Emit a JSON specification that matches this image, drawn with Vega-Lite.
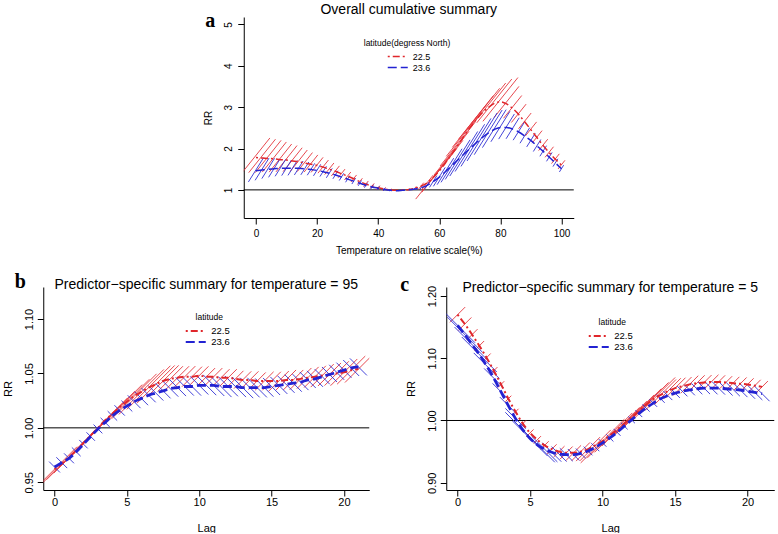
{
  "$schema": "https://vega.github.io/schema/vega-lite/v6.json",
  "background": "white",
  "padding": {"left": 2, "top": 2, "right": 0, "bottom": 0},
  "config": {
    "view": {"stroke": null},
    "font": "Liberation Sans",
    "axis": {"grid": false, "domainColor": "#000", "tickColor": "#000", "labelColor": "#000", "titleColor": "#000", "titleFontWeight": "normal", "tickSize": 6, "labelPadding": 3, "labelFont": "Liberation Sans", "titleFont": "Liberation Sans"},
    "axisY": {"labelAngle": -90, "labelAlign": "center", "labelBaseline": "bottom"},
    "title": {"font": "Liberation Sans", "fontWeight": "normal", "color": "#000", "anchor": "middle", "frame": "group", "baseline": "alphabetic"},
    "legend": {"titleFont": "Liberation Sans", "labelFont": "Liberation Sans", "titleFontWeight": "normal", "titleColor": "#000", "labelColor": "#000"}
  },
  "datasets": {
    "a": [
      {"x":0,"lat":"22.5","rr":1.78,"lo":1.391,"hi":2.278},
      {"x":2,"lat":"22.5","rr":1.77,"lo":1.394,"hi":2.248},
      {"x":4,"lat":"22.5","rr":1.76,"lo":1.397,"hi":2.218},
      {"x":6,"lat":"22.5","rr":1.75,"lo":1.400,"hi":2.188},
      {"x":8,"lat":"22.5","rr":1.73,"lo":1.401,"hi":2.137},
      {"x":10,"lat":"22.5","rr":1.72,"lo":1.410,"hi":2.098},
      {"x":12,"lat":"22.5","rr":1.70,"lo":1.411,"hi":2.049},
      {"x":14,"lat":"22.5","rr":1.68,"lo":1.412,"hi":1.999},
      {"x":16,"lat":"22.5","rr":1.65,"lo":1.404,"hi":1.939},
      {"x":18,"lat":"22.5","rr":1.62,"lo":1.397,"hi":1.879},
      {"x":20,"lat":"22.5","rr":1.59,"lo":1.389,"hi":1.821},
      {"x":22,"lat":"22.5","rr":1.55,"lo":1.366,"hi":1.759},
      {"x":24,"lat":"22.5","rr":1.50,"lo":1.333,"hi":1.688},
      {"x":26,"lat":"22.5","rr":1.45,"lo":1.300,"hi":1.617},
      {"x":28,"lat":"22.5","rr":1.39,"lo":1.258,"hi":1.536},
      {"x":30,"lat":"22.5","rr":1.33,"lo":1.209,"hi":1.463},
      {"x":32,"lat":"22.5","rr":1.27,"lo":1.160,"hi":1.391},
      {"x":34,"lat":"22.5","rr":1.20,"lo":1.101,"hi":1.308},
      {"x":36,"lat":"22.5","rr":1.14,"lo":1.051,"hi":1.237},
      {"x":38,"lat":"22.5","rr":1.09,"lo":1.014,"hi":1.172},
      {"x":40,"lat":"22.5","rr":1.05,"lo":0.991,"hi":1.113},
      {"x":42,"lat":"22.5","rr":1.02,"lo":0.976,"hi":1.066},
      {"x":44,"lat":"22.5","rr":1.00,"lo":0.971,"hi":1.030},
      {"x":46,"lat":"22.5","rr":0.99,"lo":0.980,"hi":1.000},
      {"x":48,"lat":"22.5","rr":1.00,"lo":0.990,"hi":1.010},
      {"x":50,"lat":"22.5","rr":1.01,"lo":0.990,"hi":1.030},
      {"x":52,"lat":"22.5","rr":1.04,"lo":1.005,"hi":1.076},
      {"x":54,"lat":"22.5","rr":1.09,"lo":1.038,"hi":1.145},
      {"x":56,"lat":"22.5","rr":1.17,"lo":1.093,"hi":1.252},
      {"x":58,"lat":"22.5","rr":1.30,"lo":1.182,"hi":1.430},
      {"x":60,"lat":"22.5","rr":1.46,"lo":1.292,"hi":1.650},
      {"x":62,"lat":"22.5","rr":1.65,"lo":1.422,"hi":1.914},
      {"x":64,"lat":"22.5","rr":1.86,"lo":1.563,"hi":2.213},
      {"x":66,"lat":"22.5","rr":2.07,"lo":1.711,"hi":2.505},
      {"x":68,"lat":"22.5","rr":2.29,"lo":1.862,"hi":2.817},
      {"x":70,"lat":"22.5","rr":2.50,"lo":2.016,"hi":3.100},
      {"x":72,"lat":"22.5","rr":2.69,"lo":2.169,"hi":3.336},
      {"x":74,"lat":"22.5","rr":2.86,"lo":2.306,"hi":3.546},
      {"x":76,"lat":"22.5","rr":2.99,"lo":2.431,"hi":3.678},
      {"x":78,"lat":"22.5","rr":3.09,"lo":2.533,"hi":3.770},
      {"x":80,"lat":"22.5","rr":3.13,"lo":2.587,"hi":3.787},
      {"x":82,"lat":"22.5","rr":3.08,"lo":2.588,"hi":3.665},
      {"x":84,"lat":"22.5","rr":2.97,"lo":2.538,"hi":3.475},
      {"x":86,"lat":"22.5","rr":2.82,"lo":2.431,"hi":3.271},
      {"x":88,"lat":"22.5","rr":2.64,"lo":2.286,"hi":3.049},
      {"x":90,"lat":"22.5","rr":2.45,"lo":2.130,"hi":2.818},
      {"x":92,"lat":"22.5","rr":2.26,"lo":1.974,"hi":2.588},
      {"x":94,"lat":"22.5","rr":2.07,"lo":1.816,"hi":2.360},
      {"x":96,"lat":"22.5","rr":1.90,"lo":1.674,"hi":2.157},
      {"x":98,"lat":"22.5","rr":1.74,"lo":1.540,"hi":1.966},
      {"x":100,"lat":"22.5","rr":1.60,"lo":1.429,"hi":1.792},
      {"x":0,"lat":"23.6","rr":1.46,"lo":1.217,"hi":1.752},
      {"x":2,"lat":"23.6","rr":1.48,"lo":1.254,"hi":1.746},
      {"x":4,"lat":"23.6","rr":1.50,"lo":1.288,"hi":1.748},
      {"x":6,"lat":"23.6","rr":1.51,"lo":1.313,"hi":1.737},
      {"x":8,"lat":"23.6","rr":1.52,"lo":1.333,"hi":1.733},
      {"x":10,"lat":"23.6","rr":1.52,"lo":1.345,"hi":1.718},
      {"x":12,"lat":"23.6","rr":1.52,"lo":1.351,"hi":1.710},
      {"x":14,"lat":"23.6","rr":1.52,"lo":1.357,"hi":1.702},
      {"x":16,"lat":"23.6","rr":1.51,"lo":1.354,"hi":1.684},
      {"x":18,"lat":"23.6","rr":1.49,"lo":1.342,"hi":1.654},
      {"x":20,"lat":"23.6","rr":1.47,"lo":1.324,"hi":1.632},
      {"x":22,"lat":"23.6","rr":1.44,"lo":1.303,"hi":1.591},
      {"x":24,"lat":"23.6","rr":1.40,"lo":1.273,"hi":1.540},
      {"x":26,"lat":"23.6","rr":1.36,"lo":1.248,"hi":1.482},
      {"x":28,"lat":"23.6","rr":1.31,"lo":1.207,"hi":1.421},
      {"x":30,"lat":"23.6","rr":1.26,"lo":1.167,"hi":1.361},
      {"x":32,"lat":"23.6","rr":1.21,"lo":1.126,"hi":1.301},
      {"x":34,"lat":"23.6","rr":1.16,"lo":1.084,"hi":1.241},
      {"x":36,"lat":"23.6","rr":1.11,"lo":1.042,"hi":1.182},
      {"x":38,"lat":"23.6","rr":1.07,"lo":1.009,"hi":1.134},
      {"x":40,"lat":"23.6","rr":1.04,"lo":0.990,"hi":1.092},
      {"x":42,"lat":"23.6","rr":1.01,"lo":0.971,"hi":1.050},
      {"x":44,"lat":"23.6","rr":0.99,"lo":0.966,"hi":1.015},
      {"x":46,"lat":"23.6","rr":0.98,"lo":0.970,"hi":0.990},
      {"x":48,"lat":"23.6","rr":0.99,"lo":0.985,"hi":0.995},
      {"x":50,"lat":"23.6","rr":1.00,"lo":0.990,"hi":1.010},
      {"x":52,"lat":"23.6","rr":1.02,"lo":1.000,"hi":1.040},
      {"x":54,"lat":"23.6","rr":1.05,"lo":1.014,"hi":1.087},
      {"x":56,"lat":"23.6","rr":1.11,"lo":1.057,"hi":1.166},
      {"x":58,"lat":"23.6","rr":1.20,"lo":1.121,"hi":1.284},
      {"x":60,"lat":"23.6","rr":1.31,"lo":1.202,"hi":1.428},
      {"x":62,"lat":"23.6","rr":1.44,"lo":1.309,"hi":1.584},
      {"x":64,"lat":"23.6","rr":1.58,"lo":1.423,"hi":1.754},
      {"x":66,"lat":"23.6","rr":1.72,"lo":1.536,"hi":1.926},
      {"x":68,"lat":"23.6","rr":1.86,"lo":1.653,"hi":2.093},
      {"x":70,"lat":"23.6","rr":2.00,"lo":1.770,"hi":2.260},
      {"x":72,"lat":"23.6","rr":2.13,"lo":1.877,"hi":2.418},
      {"x":74,"lat":"23.6","rr":2.26,"lo":1.982,"hi":2.576},
      {"x":76,"lat":"23.6","rr":2.37,"lo":2.079,"hi":2.702},
      {"x":78,"lat":"23.6","rr":2.46,"lo":2.158,"hi":2.804},
      {"x":80,"lat":"23.6","rr":2.51,"lo":2.202,"hi":2.861},
      {"x":82,"lat":"23.6","rr":2.51,"lo":2.202,"hi":2.861},
      {"x":84,"lat":"23.6","rr":2.47,"lo":2.176,"hi":2.803},
      {"x":86,"lat":"23.6","rr":2.40,"lo":2.124,"hi":2.712},
      {"x":88,"lat":"23.6","rr":2.30,"lo":2.044,"hi":2.588},
      {"x":90,"lat":"23.6","rr":2.19,"lo":1.955,"hi":2.453},
      {"x":92,"lat":"23.6","rr":2.06,"lo":1.848,"hi":2.297},
      {"x":94,"lat":"23.6","rr":1.93,"lo":1.739,"hi":2.142},
      {"x":96,"lat":"23.6","rr":1.79,"lo":1.627,"hi":1.969},
      {"x":98,"lat":"23.6","rr":1.65,"lo":1.507,"hi":1.807},
      {"x":100,"lat":"23.6","rr":1.51,"lo":1.385,"hi":1.646}
    ],
    "b": [
      {"x":0,"lat":"22.5","rr":0.962,"lo":0.951,"hi":0.973},
      {"x":0.5,"lat":"22.5","rr":0.967,"lo":0.956,"hi":0.978},
      {"x":1,"lat":"22.5","rr":0.973,"lo":0.962,"hi":0.984},
      {"x":1.5,"lat":"22.5","rr":0.979,"lo":0.969,"hi":0.989},
      {"x":2,"lat":"22.5","rr":0.986,"lo":0.976,"hi":0.996},
      {"x":2.5,"lat":"22.5","rr":0.993,"lo":0.983,"hi":1.003},
      {"x":3,"lat":"22.5","rr":1.000,"lo":0.990,"hi":1.010},
      {"x":3.5,"lat":"22.5","rr":1.007,"lo":0.997,"hi":1.017},
      {"x":4,"lat":"22.5","rr":1.013,"lo":1.003,"hi":1.023},
      {"x":4.5,"lat":"22.5","rr":1.019,"lo":1.0095,"hi":1.0285},
      {"x":5,"lat":"22.5","rr":1.024,"lo":1.0145,"hi":1.0335},
      {"x":5.5,"lat":"22.5","rr":1.029,"lo":1.0195,"hi":1.0385},
      {"x":6,"lat":"22.5","rr":1.033,"lo":1.0235,"hi":1.0425},
      {"x":6.5,"lat":"22.5","rr":1.037,"lo":1.0275,"hi":1.0465},
      {"x":7,"lat":"22.5","rr":1.040,"lo":1.0305,"hi":1.0495},
      {"x":7.5,"lat":"22.5","rr":1.043,"lo":1.034,"hi":1.052},
      {"x":8,"lat":"22.5","rr":1.045,"lo":1.036,"hi":1.054},
      {"x":8.5,"lat":"22.5","rr":1.046,"lo":1.037,"hi":1.055},
      {"x":9,"lat":"22.5","rr":1.047,"lo":1.038,"hi":1.056},
      {"x":9.5,"lat":"22.5","rr":1.047,"lo":1.0385,"hi":1.0555},
      {"x":10,"lat":"22.5","rr":1.048,"lo":1.0395,"hi":1.0565},
      {"x":10.5,"lat":"22.5","rr":1.047,"lo":1.0385,"hi":1.0555},
      {"x":11,"lat":"22.5","rr":1.047,"lo":1.0385,"hi":1.0555},
      {"x":11.5,"lat":"22.5","rr":1.046,"lo":1.0375,"hi":1.0545},
      {"x":12,"lat":"22.5","rr":1.046,"lo":1.0375,"hi":1.0545},
      {"x":12.5,"lat":"22.5","rr":1.045,"lo":1.0365,"hi":1.0535},
      {"x":13,"lat":"22.5","rr":1.044,"lo":1.0355,"hi":1.0525},
      {"x":13.5,"lat":"22.5","rr":1.044,"lo":1.0355,"hi":1.0525},
      {"x":14,"lat":"22.5","rr":1.043,"lo":1.0345,"hi":1.0515},
      {"x":14.5,"lat":"22.5","rr":1.043,"lo":1.0345,"hi":1.0515},
      {"x":15,"lat":"22.5","rr":1.043,"lo":1.0345,"hi":1.0515},
      {"x":15.5,"lat":"22.5","rr":1.043,"lo":1.0345,"hi":1.0515},
      {"x":16,"lat":"22.5","rr":1.044,"lo":1.0355,"hi":1.0525},
      {"x":16.5,"lat":"22.5","rr":1.044,"lo":1.0355,"hi":1.0525},
      {"x":17,"lat":"22.5","rr":1.045,"lo":1.0365,"hi":1.0535},
      {"x":17.5,"lat":"22.5","rr":1.046,"lo":1.0375,"hi":1.0545},
      {"x":18,"lat":"22.5","rr":1.047,"lo":1.0385,"hi":1.0555},
      {"x":18.5,"lat":"22.5","rr":1.048,"lo":1.039,"hi":1.057},
      {"x":19,"lat":"22.5","rr":1.049,"lo":1.040,"hi":1.058},
      {"x":19.5,"lat":"22.5","rr":1.050,"lo":1.0405,"hi":1.0595},
      {"x":20,"lat":"22.5","rr":1.051,"lo":1.0415,"hi":1.0605},
      {"x":20.5,"lat":"22.5","rr":1.053,"lo":1.043,"hi":1.063},
      {"x":21,"lat":"22.5","rr":1.054,"lo":1.0435,"hi":1.0645},
      {"x":0,"lat":"23.6","rr":0.964,"lo":0.956,"hi":0.972},
      {"x":0.5,"lat":"23.6","rr":0.968,"lo":0.960,"hi":0.976},
      {"x":1,"lat":"23.6","rr":0.972,"lo":0.964,"hi":0.980},
      {"x":1.5,"lat":"23.6","rr":0.978,"lo":0.970,"hi":0.986},
      {"x":2,"lat":"23.6","rr":0.985,"lo":0.977,"hi":0.993},
      {"x":2.5,"lat":"23.6","rr":0.992,"lo":0.984,"hi":1.000},
      {"x":3,"lat":"23.6","rr":0.999,"lo":0.991,"hi":1.007},
      {"x":3.5,"lat":"23.6","rr":1.005,"lo":0.997,"hi":1.013},
      {"x":4,"lat":"23.6","rr":1.011,"lo":1.003,"hi":1.019},
      {"x":4.5,"lat":"23.6","rr":1.016,"lo":1.008,"hi":1.024},
      {"x":5,"lat":"23.6","rr":1.020,"lo":1.012,"hi":1.028},
      {"x":5.5,"lat":"23.6","rr":1.024,"lo":1.015,"hi":1.033},
      {"x":6,"lat":"23.6","rr":1.027,"lo":1.018,"hi":1.036},
      {"x":6.5,"lat":"23.6","rr":1.030,"lo":1.021,"hi":1.039},
      {"x":7,"lat":"23.6","rr":1.032,"lo":1.023,"hi":1.041},
      {"x":7.5,"lat":"23.6","rr":1.034,"lo":1.025,"hi":1.043},
      {"x":8,"lat":"23.6","rr":1.036,"lo":1.027,"hi":1.045},
      {"x":8.5,"lat":"23.6","rr":1.037,"lo":1.028,"hi":1.046},
      {"x":9,"lat":"23.6","rr":1.038,"lo":1.029,"hi":1.047},
      {"x":9.5,"lat":"23.6","rr":1.038,"lo":1.029,"hi":1.047},
      {"x":10,"lat":"23.6","rr":1.039,"lo":1.030,"hi":1.048},
      {"x":10.5,"lat":"23.6","rr":1.039,"lo":1.030,"hi":1.048},
      {"x":11,"lat":"23.6","rr":1.039,"lo":1.030,"hi":1.048},
      {"x":11.5,"lat":"23.6","rr":1.038,"lo":1.029,"hi":1.047},
      {"x":12,"lat":"23.6","rr":1.038,"lo":1.029,"hi":1.047},
      {"x":12.5,"lat":"23.6","rr":1.038,"lo":1.029,"hi":1.047},
      {"x":13,"lat":"23.6","rr":1.037,"lo":1.028,"hi":1.046},
      {"x":13.5,"lat":"23.6","rr":1.037,"lo":1.028,"hi":1.046},
      {"x":14,"lat":"23.6","rr":1.037,"lo":1.028,"hi":1.046},
      {"x":14.5,"lat":"23.6","rr":1.037,"lo":1.028,"hi":1.046},
      {"x":15,"lat":"23.6","rr":1.038,"lo":1.029,"hi":1.047},
      {"x":15.5,"lat":"23.6","rr":1.039,"lo":1.030,"hi":1.048},
      {"x":16,"lat":"23.6","rr":1.040,"lo":1.031,"hi":1.049},
      {"x":16.5,"lat":"23.6","rr":1.041,"lo":1.032,"hi":1.050},
      {"x":17,"lat":"23.6","rr":1.042,"lo":1.033,"hi":1.051},
      {"x":17.5,"lat":"23.6","rr":1.044,"lo":1.035,"hi":1.053},
      {"x":18,"lat":"23.6","rr":1.045,"lo":1.036,"hi":1.054},
      {"x":18.5,"lat":"23.6","rr":1.047,"lo":1.038,"hi":1.056},
      {"x":19,"lat":"23.6","rr":1.049,"lo":1.040,"hi":1.058},
      {"x":19.5,"lat":"23.6","rr":1.051,"lo":1.042,"hi":1.060},
      {"x":20,"lat":"23.6","rr":1.053,"lo":1.044,"hi":1.062},
      {"x":20.5,"lat":"23.6","rr":1.055,"lo":1.046,"hi":1.064},
      {"x":21,"lat":"23.6","rr":1.056,"lo":1.047,"hi":1.065}
    ],
    "c": [
      {"x":0,"lat":"22.5","rr":1.170,"lo":1.142,"hi":1.198},
      {"x":0.5,"lat":"22.5","rr":1.155,"lo":1.130,"hi":1.180},
      {"x":1,"lat":"22.5","rr":1.138,"lo":1.116,"hi":1.160},
      {"x":1.5,"lat":"22.5","rr":1.120,"lo":1.100,"hi":1.140},
      {"x":2,"lat":"22.5","rr":1.101,"lo":1.083,"hi":1.119},
      {"x":2.5,"lat":"22.5","rr":1.080,"lo":1.0635,"hi":1.0965},
      {"x":3,"lat":"22.5","rr":1.058,"lo":1.043,"hi":1.073},
      {"x":3.5,"lat":"22.5","rr":1.035,"lo":1.021,"hi":1.049},
      {"x":4,"lat":"22.5","rr":1.014,"lo":1.001,"hi":1.027},
      {"x":4.5,"lat":"22.5","rr":0.995,"lo":0.9825,"hi":1.0075},
      {"x":5,"lat":"22.5","rr":0.980,"lo":0.968,"hi":0.992},
      {"x":5.5,"lat":"22.5","rr":0.969,"lo":0.958,"hi":0.980},
      {"x":6,"lat":"22.5","rr":0.960,"lo":0.949,"hi":0.971},
      {"x":6.5,"lat":"22.5","rr":0.954,"lo":0.943,"hi":0.965},
      {"x":7,"lat":"22.5","rr":0.950,"lo":0.939,"hi":0.961},
      {"x":7.5,"lat":"22.5","rr":0.948,"lo":0.937,"hi":0.959},
      {"x":8,"lat":"22.5","rr":0.948,"lo":0.937,"hi":0.959},
      {"x":8.5,"lat":"22.5","rr":0.950,"lo":0.939,"hi":0.961},
      {"x":9,"lat":"22.5","rr":0.954,"lo":0.943,"hi":0.965},
      {"x":9.5,"lat":"22.5","rr":0.960,"lo":0.949,"hi":0.971},
      {"x":10,"lat":"22.5","rr":0.967,"lo":0.956,"hi":0.978},
      {"x":10.5,"lat":"22.5","rr":0.976,"lo":0.965,"hi":0.987},
      {"x":11,"lat":"22.5","rr":0.985,"lo":0.974,"hi":0.996},
      {"x":11.5,"lat":"22.5","rr":0.995,"lo":0.984,"hi":1.006},
      {"x":12,"lat":"22.5","rr":1.005,"lo":0.994,"hi":1.016},
      {"x":12.5,"lat":"22.5","rr":1.015,"lo":1.004,"hi":1.026},
      {"x":13,"lat":"22.5","rr":1.025,"lo":1.014,"hi":1.036},
      {"x":13.5,"lat":"22.5","rr":1.034,"lo":1.023,"hi":1.045},
      {"x":14,"lat":"22.5","rr":1.041,"lo":1.030,"hi":1.052},
      {"x":14.5,"lat":"22.5","rr":1.047,"lo":1.036,"hi":1.058},
      {"x":15,"lat":"22.5","rr":1.052,"lo":1.041,"hi":1.063},
      {"x":15.5,"lat":"22.5","rr":1.055,"lo":1.044,"hi":1.066},
      {"x":16,"lat":"22.5","rr":1.058,"lo":1.047,"hi":1.069},
      {"x":16.5,"lat":"22.5","rr":1.060,"lo":1.049,"hi":1.071},
      {"x":17,"lat":"22.5","rr":1.061,"lo":1.050,"hi":1.072},
      {"x":17.5,"lat":"22.5","rr":1.062,"lo":1.051,"hi":1.073},
      {"x":18,"lat":"22.5","rr":1.062,"lo":1.051,"hi":1.073},
      {"x":18.5,"lat":"22.5","rr":1.061,"lo":1.050,"hi":1.072},
      {"x":19,"lat":"22.5","rr":1.060,"lo":1.049,"hi":1.071},
      {"x":19.5,"lat":"22.5","rr":1.059,"lo":1.048,"hi":1.070},
      {"x":20,"lat":"22.5","rr":1.058,"lo":1.047,"hi":1.069},
      {"x":20.5,"lat":"22.5","rr":1.056,"lo":1.045,"hi":1.067},
      {"x":21,"lat":"22.5","rr":1.054,"lo":1.043,"hi":1.065},
      {"x":0,"lat":"23.6","rr":1.153,"lo":1.137,"hi":1.169},
      {"x":0.5,"lat":"23.6","rr":1.138,"lo":1.123,"hi":1.153},
      {"x":1,"lat":"23.6","rr":1.122,"lo":1.108,"hi":1.136},
      {"x":1.5,"lat":"23.6","rr":1.106,"lo":1.0925,"hi":1.1195},
      {"x":2,"lat":"23.6","rr":1.088,"lo":1.075,"hi":1.101},
      {"x":2.5,"lat":"23.6","rr":1.068,"lo":1.0555,"hi":1.0805},
      {"x":3,"lat":"23.6","rr":1.046,"lo":1.034,"hi":1.058},
      {"x":3.5,"lat":"23.6","rr":1.024,"lo":1.0125,"hi":1.0355},
      {"x":4,"lat":"23.6","rr":1.003,"lo":0.992,"hi":1.014},
      {"x":4.5,"lat":"23.6","rr":0.985,"lo":0.9745,"hi":0.9955},
      {"x":5,"lat":"23.6","rr":0.971,"lo":0.961,"hi":0.981},
      {"x":5.5,"lat":"23.6","rr":0.961,"lo":0.951,"hi":0.971},
      {"x":6,"lat":"23.6","rr":0.954,"lo":0.944,"hi":0.964},
      {"x":6.5,"lat":"23.6","rr":0.949,"lo":0.939,"hi":0.959},
      {"x":7,"lat":"23.6","rr":0.946,"lo":0.936,"hi":0.956},
      {"x":7.5,"lat":"23.6","rr":0.945,"lo":0.935,"hi":0.955},
      {"x":8,"lat":"23.6","rr":0.945,"lo":0.935,"hi":0.955},
      {"x":8.5,"lat":"23.6","rr":0.947,"lo":0.937,"hi":0.957},
      {"x":9,"lat":"23.6","rr":0.951,"lo":0.941,"hi":0.961},
      {"x":9.5,"lat":"23.6","rr":0.957,"lo":0.947,"hi":0.967},
      {"x":10,"lat":"23.6","rr":0.964,"lo":0.954,"hi":0.974},
      {"x":10.5,"lat":"23.6","rr":0.972,"lo":0.962,"hi":0.982},
      {"x":11,"lat":"23.6","rr":0.981,"lo":0.971,"hi":0.991},
      {"x":11.5,"lat":"23.6","rr":0.991,"lo":0.981,"hi":1.001},
      {"x":12,"lat":"23.6","rr":1.001,"lo":0.991,"hi":1.011},
      {"x":12.5,"lat":"23.6","rr":1.011,"lo":1.001,"hi":1.021},
      {"x":13,"lat":"23.6","rr":1.020,"lo":1.010,"hi":1.030},
      {"x":13.5,"lat":"23.6","rr":1.028,"lo":1.018,"hi":1.038},
      {"x":14,"lat":"23.6","rr":1.035,"lo":1.025,"hi":1.045},
      {"x":14.5,"lat":"23.6","rr":1.040,"lo":1.030,"hi":1.050},
      {"x":15,"lat":"23.6","rr":1.044,"lo":1.034,"hi":1.054},
      {"x":15.5,"lat":"23.6","rr":1.047,"lo":1.037,"hi":1.057},
      {"x":16,"lat":"23.6","rr":1.049,"lo":1.039,"hi":1.059},
      {"x":16.5,"lat":"23.6","rr":1.051,"lo":1.041,"hi":1.061},
      {"x":17,"lat":"23.6","rr":1.052,"lo":1.042,"hi":1.062},
      {"x":17.5,"lat":"23.6","rr":1.052,"lo":1.042,"hi":1.062},
      {"x":18,"lat":"23.6","rr":1.052,"lo":1.042,"hi":1.062},
      {"x":18.5,"lat":"23.6","rr":1.051,"lo":1.041,"hi":1.061},
      {"x":19,"lat":"23.6","rr":1.050,"lo":1.040,"hi":1.060},
      {"x":19.5,"lat":"23.6","rr":1.049,"lo":1.039,"hi":1.059},
      {"x":20,"lat":"23.6","rr":1.047,"lo":1.037,"hi":1.057},
      {"x":20.5,"lat":"23.6","rr":1.045,"lo":1.035,"hi":1.055},
      {"x":21,"lat":"23.6","rr":1.043,"lo":1.033,"hi":1.053}
    ]
  },
  "center": true,
  "spacing": 16,
  "resolve": {"scale": {"color": "independent", "strokeDash": "independent"}},
  "vconcat": [
    {
      "name": "A",
      "width": 330,
      "height": 201,
      "title": {"text": "Overall cumulative summary", "fontSize": 14, "offset": -6},
      "data": {"name": "a"},
      "layer": [
        {
          "data": {"values": [{"ref": 1}]},
          "mark": {"type": "rule", "color": "#000", "strokeWidth": 1},
          "encoding": {"y": {"field": "ref", "type": "quantitative"}}
        },
        {
          "transform": [
            {"filter": "datum.lat == '22.5'"},
            {"window": [{"op": "first_value", "field": "rr", "as": "rp"}, {"op": "last_value", "field": "rr", "as": "rn"}, {"op": "first_value", "field": "x", "as": "xp"}, {"op": "last_value", "field": "x", "as": "xn"}], "frame": [-1, 1], "sort": [{"field": "x", "order": "ascending"}]}
          ],
          "mark": {"type": "rule", "color": "#e4363c", "strokeWidth": 0.9, "clip": true,
            "xOffset": {"expr": "-0.5*clamp((scale('A_y',datum.lo)-scale('A_y',datum.hi))/(1.25-(scale('A_y',datum.rp)-scale('A_y',datum.rn))/(scale('A_x',datum.xn)-scale('A_x',datum.xp))),-35,35)"},
            "x2Offset": {"expr": "0.5*clamp((scale('A_y',datum.lo)-scale('A_y',datum.hi))/(1.25-(scale('A_y',datum.rp)-scale('A_y',datum.rn))/(scale('A_x',datum.xn)-scale('A_x',datum.xp))),-35,35)"},
            "yOffset": {"expr": "-0.5*(scale('A_y',datum.lo)-scale('A_y',datum.hi))+0.625*clamp((scale('A_y',datum.lo)-scale('A_y',datum.hi))/(1.25-(scale('A_y',datum.rp)-scale('A_y',datum.rn))/(scale('A_x',datum.xn)-scale('A_x',datum.xp))),-35,35)"},
            "y2Offset": {"expr": "0.5*(scale('A_y',datum.lo)-scale('A_y',datum.hi))-0.625*clamp((scale('A_y',datum.lo)-scale('A_y',datum.hi))/(1.25-(scale('A_y',datum.rp)-scale('A_y',datum.rn))/(scale('A_x',datum.xn)-scale('A_x',datum.xp))),-35,35)"}},
          "encoding": {
            "x": {"field": "x", "type": "quantitative", "scale": {"domain": [-4, 104], "nice": false, "zero": false},
              "axis": {"values": [0, 20, 40, 60, 80, 100], "title": "Temperature on relative scale(%)", "labelFontSize": 10, "titleFontSize": 10, "labelPadding": 4, "titlePadding": 7}},
            "x2": {"field": "x"},
            "y": {"field": "lo", "type": "quantitative", "scale": {"domain": [0.32, 5.18], "nice": false, "zero": false},
              "axis": {"values": [1, 2, 3, 4, 5], "title": "RR", "labelFontSize": 10, "titleFontSize": 10, "labelPadding": 4, "titlePadding": 10}},
            "y2": {"field": "hi"}
          }
        },
        {
          "transform": [
            {"filter": "datum.lat == '23.6'"},
            {"window": [{"op": "first_value", "field": "rr", "as": "rp"}, {"op": "last_value", "field": "rr", "as": "rn"}, {"op": "first_value", "field": "x", "as": "xp"}, {"op": "last_value", "field": "x", "as": "xn"}], "frame": [-1, 1], "sort": [{"field": "x", "order": "ascending"}]}
          ],
          "mark": {"type": "rule", "color": "#2f2fd4", "strokeWidth": 0.9, "clip": true,
            "xOffset": {"expr": "-0.5*clamp((scale('A_y',datum.lo)-scale('A_y',datum.hi))/(1.6-(scale('A_y',datum.rp)-scale('A_y',datum.rn))/(scale('A_x',datum.xn)-scale('A_x',datum.xp))),-30,30)"},
            "x2Offset": {"expr": "0.5*clamp((scale('A_y',datum.lo)-scale('A_y',datum.hi))/(1.6-(scale('A_y',datum.rp)-scale('A_y',datum.rn))/(scale('A_x',datum.xn)-scale('A_x',datum.xp))),-30,30)"},
            "yOffset": {"expr": "-0.5*(scale('A_y',datum.lo)-scale('A_y',datum.hi))+0.8*clamp((scale('A_y',datum.lo)-scale('A_y',datum.hi))/(1.6-(scale('A_y',datum.rp)-scale('A_y',datum.rn))/(scale('A_x',datum.xn)-scale('A_x',datum.xp))),-30,30)"},
            "y2Offset": {"expr": "0.5*(scale('A_y',datum.lo)-scale('A_y',datum.hi))-0.8*clamp((scale('A_y',datum.lo)-scale('A_y',datum.hi))/(1.6-(scale('A_y',datum.rp)-scale('A_y',datum.rn))/(scale('A_x',datum.xn)-scale('A_x',datum.xp))),-30,30)"}},
          "encoding": {
            "x": {"field": "x", "type": "quantitative"},
            "x2": {"field": "x"},
            "y": {"field": "lo", "type": "quantitative"},
            "y2": {"field": "hi"}
          }
        },
        {
          "mark": {"type": "line", "interpolate": "monotone", "strokeWidth": 1.5},
          "encoding": {
            "x": {"field": "x", "type": "quantitative"},
            "y": {"field": "rr", "type": "quantitative"},
            "color": {"field": "lat", "type": "nominal", "scale": {"domain": ["22.5", "23.6"], "range": ["#e0262b", "#2323d2"]},
              "legend": {"title": "latitude(degress North)", "orient": "none", "legendX": 120, "legendY": 22, "symbolType": "M-2,0H2", "symbolSize": 100, "symbolStrokeWidth": 1.6, "symbolOffset": 28, "titleFontSize": 8.5, "labelFontSize": 9, "titlePadding": 3, "rowPadding": -1, "labelOffset": 9}},
            "strokeDash": {"field": "lat", "type": "nominal", "scale": {"domain": ["22.5", "23.6"], "range": [[2, 3, 7, 3], [9, 4]]},
              "legend": {"title": "latitude(degress North)", "orient": "none", "legendX": 120, "legendY": 22, "symbolType": "M-2,0H2", "symbolSize": 100, "symbolStrokeWidth": 1.6, "symbolOffset": 28, "titleFontSize": 8.5, "labelFontSize": 9, "titlePadding": 3, "rowPadding": -1, "labelOffset": 9}}
          }
        },
        {
          "data": {"values": [{"label": "a"}]},
          "mark": {"type": "text", "font": "Liberation Serif", "fontWeight": "bold", "fontSize": 20, "align": "center", "baseline": "alphabetic", "color": "#000"},
          "encoding": {"x": {"datum": -15}, "y": {"datum": 4.94}, "text": {"field": "label"}}
        }
      ]
    },
    {
      "spacing": 30,
      "resolve": {"scale": {"color": "independent", "strokeDash": "independent"}},
      "hconcat": [
        {
          "name": "B",
          "width": 326,
          "height": 203,
          "title": {"text": "Predictor−specific summary for temperature = 95", "fontSize": 14, "offset": -20},
          "data": {"name": "b"},
          "layer": [
            {
              "data": {"values": [{"ref": 1}]},
              "mark": {"type": "rule", "color": "#000", "strokeWidth": 1},
              "encoding": {"y": {"field": "ref", "type": "quantitative"}}
            },
            {
              "transform": [
                {"filter": "datum.lat == '22.5'"},
                {"window": [{"op": "first_value", "field": "rr", "as": "rp"}, {"op": "last_value", "field": "rr", "as": "rn"}, {"op": "first_value", "field": "x", "as": "xp"}, {"op": "last_value", "field": "x", "as": "xn"}], "frame": [-1, 1], "sort": [{"field": "x", "order": "ascending"}]}
              ],
              "mark": {"type": "rule", "color": "#e4363c", "strokeWidth": 0.9, "clip": true,
                "xOffset": {"expr": "-0.5*clamp((scale('B_y',datum.lo)-scale('B_y',datum.hi))/(1-(scale('B_y',datum.rp)-scale('B_y',datum.rn))/(scale('B_x',datum.xn)-scale('B_x',datum.xp))),-45,45)"},
                "x2Offset": {"expr": "0.5*clamp((scale('B_y',datum.lo)-scale('B_y',datum.hi))/(1-(scale('B_y',datum.rp)-scale('B_y',datum.rn))/(scale('B_x',datum.xn)-scale('B_x',datum.xp))),-45,45)"},
                "yOffset": {"expr": "-0.5*(scale('B_y',datum.lo)-scale('B_y',datum.hi))+0.5*clamp((scale('B_y',datum.lo)-scale('B_y',datum.hi))/(1-(scale('B_y',datum.rp)-scale('B_y',datum.rn))/(scale('B_x',datum.xn)-scale('B_x',datum.xp))),-45,45)"},
                "y2Offset": {"expr": "0.5*(scale('B_y',datum.lo)-scale('B_y',datum.hi))-0.5*clamp((scale('B_y',datum.lo)-scale('B_y',datum.hi))/(1-(scale('B_y',datum.rp)-scale('B_y',datum.rn))/(scale('B_x',datum.xn)-scale('B_x',datum.xp))),-45,45)"}},
              "encoding": {
                "x": {"field": "x", "type": "quantitative", "scale": {"domain": [-0.78, 21.75], "nice": false, "zero": false},
                  "axis": {"values": [0, 5, 10, 15, 20], "title": "Lag", "labelFontSize": 11, "titleFontSize": 11, "labelPadding": 0, "titlePadding": 15}},
                "x2": {"field": "x"},
                "y": {"field": "lo", "type": "quantitative", "scale": {"domain": [0.9429, 1.1294], "nice": false, "zero": false},
                  "axis": {"values": [0.95, 1.0, 1.05, 1.1], "format": ".2f", "title": "RR", "labelFontSize": 11, "titleFontSize": 11, "labelPadding": 3, "titlePadding": 10}},
                "y2": {"field": "hi"}
              }
            },
            {
              "transform": [
                {"filter": "datum.lat == '23.6'"},
                {"window": [{"op": "first_value", "field": "rr", "as": "rp"}, {"op": "last_value", "field": "rr", "as": "rn"}, {"op": "first_value", "field": "x", "as": "xp"}, {"op": "last_value", "field": "x", "as": "xn"}], "frame": [-1, 1], "sort": [{"field": "x", "order": "ascending"}]}
              ],
              "mark": {"type": "rule", "color": "#2f2fd4", "strokeWidth": 0.9, "clip": true,
                "xOffset": {"expr": "0.5*clamp((scale('B_y',datum.lo)-scale('B_y',datum.hi))/(1+(scale('B_y',datum.rp)-scale('B_y',datum.rn))/(scale('B_x',datum.xn)-scale('B_x',datum.xp))),-45,45)"},
                "x2Offset": {"expr": "-0.5*clamp((scale('B_y',datum.lo)-scale('B_y',datum.hi))/(1+(scale('B_y',datum.rp)-scale('B_y',datum.rn))/(scale('B_x',datum.xn)-scale('B_x',datum.xp))),-45,45)"},
                "yOffset": {"expr": "-0.5*(scale('B_y',datum.lo)-scale('B_y',datum.hi))+0.5*clamp((scale('B_y',datum.lo)-scale('B_y',datum.hi))/(1+(scale('B_y',datum.rp)-scale('B_y',datum.rn))/(scale('B_x',datum.xn)-scale('B_x',datum.xp))),-45,45)"},
                "y2Offset": {"expr": "0.5*(scale('B_y',datum.lo)-scale('B_y',datum.hi))-0.5*clamp((scale('B_y',datum.lo)-scale('B_y',datum.hi))/(1+(scale('B_y',datum.rp)-scale('B_y',datum.rn))/(scale('B_x',datum.xn)-scale('B_x',datum.xp))),-45,45)"}},
              "encoding": {
                "x": {"field": "x", "type": "quantitative"},
                "x2": {"field": "x"},
                "y": {"field": "lo", "type": "quantitative"},
                "y2": {"field": "hi"}
              }
            },
            {
              "transform": [{"filter": "datum.lat == '22.5'"}],
              "mark": {"type": "line", "interpolate": "monotone", "strokeWidth": 2},
              "encoding": {
                "x": {"field": "x", "type": "quantitative"},
                "y": {"field": "rr", "type": "quantitative"},
                "color": {"field": "lat", "type": "nominal", "scale": {"domain": ["22.5", "23.6"], "range": ["#e0262b", "#2323d2"]},
                  "legend": {"title": "latitude", "orient": "none", "legendX": 146, "legendY": 26, "titleAnchor": "middle", "symbolType": "M-2,0H2", "symbolSize": 100, "symbolStrokeWidth": 2.2, "titleFontSize": 8.5, "labelFontSize": 9.5, "titlePadding": 3, "rowPadding": -1, "labelOffset": 9}},
                "strokeDash": {"field": "lat", "type": "nominal", "scale": {"domain": ["22.5", "23.6"], "range": [[2, 3, 7, 3], [9, 4]]},
                  "legend": {"title": "latitude", "orient": "none", "legendX": 146, "legendY": 26, "titleAnchor": "middle", "symbolType": "M-2,0H2", "symbolSize": 100, "symbolStrokeWidth": 2.2, "titleFontSize": 8.5, "labelFontSize": 9.5, "titlePadding": 3, "rowPadding": -1, "labelOffset": 9}}
              }
            },
            {
              "transform": [{"filter": "datum.lat == '23.6'"}],
              "mark": {"type": "line", "interpolate": "monotone", "strokeWidth": 2.8},
              "encoding": {
                "x": {"field": "x", "type": "quantitative"},
                "y": {"field": "rr", "type": "quantitative"},
                "color": {"field": "lat", "type": "nominal"},
                "strokeDash": {"field": "lat", "type": "nominal"}
              }
            },
            {
              "data": {"values": [{"label": "b"}]},
              "mark": {"type": "text", "font": "Liberation Serif", "fontWeight": "bold", "fontSize": 20, "align": "center", "baseline": "alphabetic", "color": "#000"},
              "encoding": {"x": {"datum": -2.37}, "y": {"datum": 1.1285}, "text": {"field": "label"}}
            }
          ]
        },
        {
          "name": "C",
          "width": 328,
          "height": 203,
          "title": {"text": "Predictor−specific summary for temperature = 5", "fontSize": 14, "offset": -20},
          "data": {"name": "c"},
          "layer": [
            {
              "data": {"values": [{"ref": 1}]},
              "mark": {"type": "rule", "color": "#000", "strokeWidth": 1},
              "encoding": {"y": {"field": "ref", "type": "quantitative"}}
            },
            {
              "transform": [
                {"filter": "datum.lat == '22.5'"},
                {"window": [{"op": "first_value", "field": "rr", "as": "rp"}, {"op": "last_value", "field": "rr", "as": "rn"}, {"op": "first_value", "field": "x", "as": "xp"}, {"op": "last_value", "field": "x", "as": "xn"}], "frame": [-1, 1], "sort": [{"field": "x", "order": "ascending"}]}
              ],
              "mark": {"type": "rule", "color": "#e4363c", "strokeWidth": 0.9, "clip": true,
                "xOffset": {"expr": "-0.5*clamp((scale('C_y',datum.lo)-scale('C_y',datum.hi))/(1-(scale('C_y',datum.rp)-scale('C_y',datum.rn))/(scale('C_x',datum.xn)-scale('C_x',datum.xp))),-45,45)"},
                "x2Offset": {"expr": "0.5*clamp((scale('C_y',datum.lo)-scale('C_y',datum.hi))/(1-(scale('C_y',datum.rp)-scale('C_y',datum.rn))/(scale('C_x',datum.xn)-scale('C_x',datum.xp))),-45,45)"},
                "yOffset": {"expr": "-0.5*(scale('C_y',datum.lo)-scale('C_y',datum.hi))+0.5*clamp((scale('C_y',datum.lo)-scale('C_y',datum.hi))/(1-(scale('C_y',datum.rp)-scale('C_y',datum.rn))/(scale('C_x',datum.xn)-scale('C_x',datum.xp))),-45,45)"},
                "y2Offset": {"expr": "0.5*(scale('C_y',datum.lo)-scale('C_y',datum.hi))-0.5*clamp((scale('C_y',datum.lo)-scale('C_y',datum.hi))/(1-(scale('C_y',datum.rp)-scale('C_y',datum.rn))/(scale('C_x',datum.xn)-scale('C_x',datum.xp))),-45,45)"}},
              "encoding": {
                "x": {"field": "x", "type": "quantitative", "scale": {"domain": [-0.78, 21.84], "nice": false, "zero": false},
                  "axis": {"values": [0, 5, 10, 15, 20], "title": "Lag", "labelFontSize": 11, "titleFontSize": 11, "labelPadding": 0, "titlePadding": 15}},
                "x2": {"field": "x"},
                "y": {"field": "lo", "type": "quantitative", "scale": {"domain": [0.8883, 1.2145], "nice": false, "zero": false},
                  "axis": {"values": [0.9, 0.95, 1.0, 1.05, 1.1, 1.15, 1.2], "format": ".2f", "title": "RR", "labelFontSize": 11, "titleFontSize": 11, "labelPadding": 3, "titlePadding": 10}},
                "y2": {"field": "hi"}
              }
            },
            {
              "transform": [
                {"filter": "datum.lat == '23.6'"},
                {"window": [{"op": "first_value", "field": "rr", "as": "rp"}, {"op": "last_value", "field": "rr", "as": "rn"}, {"op": "first_value", "field": "x", "as": "xp"}, {"op": "last_value", "field": "x", "as": "xn"}], "frame": [-1, 1], "sort": [{"field": "x", "order": "ascending"}]}
              ],
              "mark": {"type": "rule", "color": "#2f2fd4", "strokeWidth": 0.9, "clip": true,
                "xOffset": {"expr": "0.5*clamp((scale('C_y',datum.lo)-scale('C_y',datum.hi))/(1+(scale('C_y',datum.rp)-scale('C_y',datum.rn))/(scale('C_x',datum.xn)-scale('C_x',datum.xp))),-35,35)"},
                "x2Offset": {"expr": "-0.5*clamp((scale('C_y',datum.lo)-scale('C_y',datum.hi))/(1+(scale('C_y',datum.rp)-scale('C_y',datum.rn))/(scale('C_x',datum.xn)-scale('C_x',datum.xp))),-35,35)"},
                "yOffset": {"expr": "-0.5*(scale('C_y',datum.lo)-scale('C_y',datum.hi))+0.5*clamp((scale('C_y',datum.lo)-scale('C_y',datum.hi))/(1+(scale('C_y',datum.rp)-scale('C_y',datum.rn))/(scale('C_x',datum.xn)-scale('C_x',datum.xp))),-35,35)"},
                "y2Offset": {"expr": "0.5*(scale('C_y',datum.lo)-scale('C_y',datum.hi))-0.5*clamp((scale('C_y',datum.lo)-scale('C_y',datum.hi))/(1+(scale('C_y',datum.rp)-scale('C_y',datum.rn))/(scale('C_x',datum.xn)-scale('C_x',datum.xp))),-35,35)"}},
              "encoding": {
                "x": {"field": "x", "type": "quantitative"},
                "x2": {"field": "x"},
                "y": {"field": "lo", "type": "quantitative"},
                "y2": {"field": "hi"}
              }
            },
            {
              "transform": [{"filter": "datum.lat == '22.5'"}],
              "mark": {"type": "line", "interpolate": "monotone", "strokeWidth": 2},
              "encoding": {
                "x": {"field": "x", "type": "quantitative"},
                "y": {"field": "rr", "type": "quantitative"},
                "color": {"field": "lat", "type": "nominal", "scale": {"domain": ["22.5", "23.6"], "range": ["#e0262b", "#2323d2"]},
                  "legend": {"title": "latitude", "orient": "none", "legendX": 146, "legendY": 31, "titleAnchor": "middle", "symbolType": "M-2,0H2", "symbolSize": 100, "symbolStrokeWidth": 2.2, "titleFontSize": 8.5, "labelFontSize": 9.5, "titlePadding": 3, "rowPadding": -1, "labelOffset": 9}},
                "strokeDash": {"field": "lat", "type": "nominal", "scale": {"domain": ["22.5", "23.6"], "range": [[2, 3, 7, 3], [9, 4]]},
                  "legend": {"title": "latitude", "orient": "none", "legendX": 146, "legendY": 31, "titleAnchor": "middle", "symbolType": "M-2,0H2", "symbolSize": 100, "symbolStrokeWidth": 2.2, "titleFontSize": 8.5, "labelFontSize": 9.5, "titlePadding": 3, "rowPadding": -1, "labelOffset": 9}}
              }
            },
            {
              "transform": [{"filter": "datum.lat == '23.6'"}],
              "mark": {"type": "line", "interpolate": "monotone", "strokeWidth": 2.8},
              "encoding": {
                "x": {"field": "x", "type": "quantitative"},
                "y": {"field": "rr", "type": "quantitative"},
                "color": {"field": "lat", "type": "nominal"},
                "strokeDash": {"field": "lat", "type": "nominal"}
              }
            },
            {
              "data": {"values": [{"label": "c"}]},
              "mark": {"type": "text", "font": "Liberation Serif", "fontWeight": "bold", "fontSize": 20, "align": "center", "baseline": "alphabetic", "color": "#000"},
              "encoding": {"x": {"datum": -3.64}, "y": {"datum": 1.2081}, "text": {"field": "label"}}
            }
          ]
        }
      ]
    }
  ]
}
